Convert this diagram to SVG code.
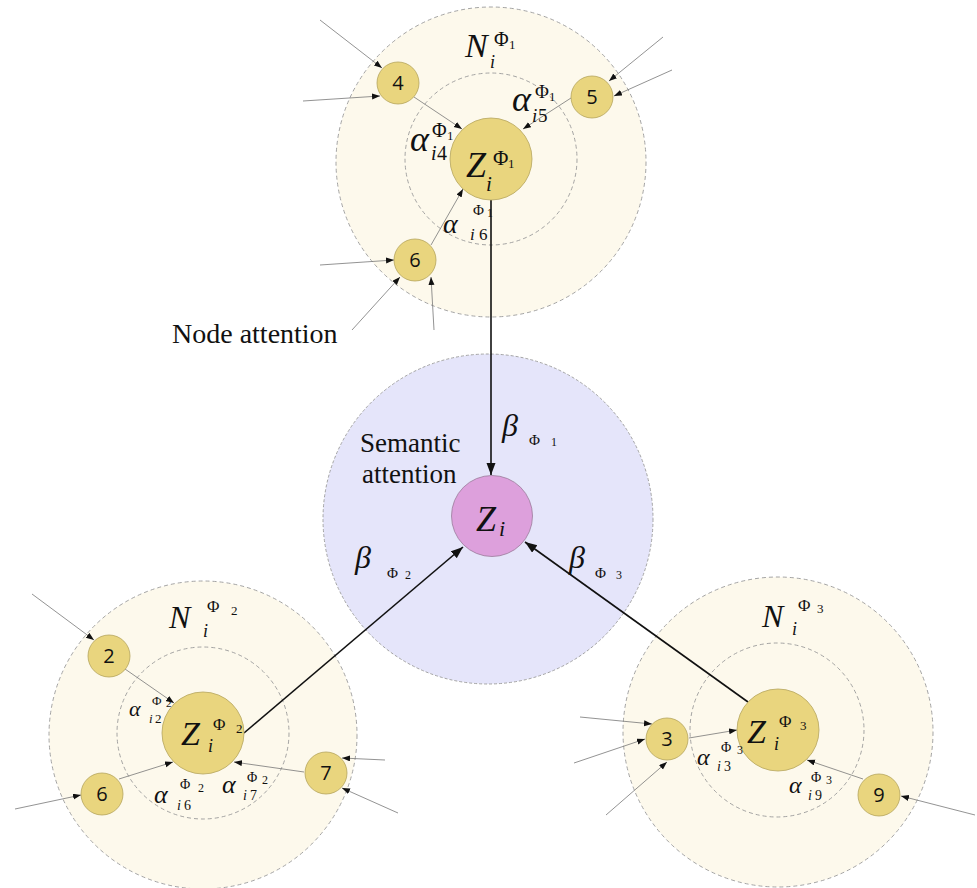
<svg xmlns="http://www.w3.org/2000/svg" width="977" height="888" viewBox="0 0 977 888">
<style>
.outer{fill:#FDF9EC;stroke:#9a9a9a;stroke-width:0.9;stroke-dasharray:4 3}
.inner{fill:none;stroke:#9a9a9a;stroke-width:0.9;stroke-dasharray:4 3}
.sem{fill:#E5E5FA;stroke:#9a9a9a;stroke-width:0.9;stroke-dasharray:3 2}
.nd{fill:#E9D57E;stroke:#B5A45C;stroke-width:0.8}
.zc{fill:#DDA0DC;stroke:#9A7C9A;stroke-width:0.8}
.thin{stroke:#777;stroke-width:0.8;fill:none;marker-end:url(#sa)}
.big{stroke:#111;stroke-width:1.6;fill:none;marker-end:url(#ba)}
.num{font-family:"Open Sans","Liberation Sans",sans-serif;font-size:20px;fill:#111;text-anchor:middle}
.m{font-family:"Liberation Serif","DejaVu Serif",serif;fill:#111;font-style:italic}
.u{font-family:"Liberation Serif","DejaVu Serif",serif;fill:#111;font-style:normal}
.t{font-family:"Liberation Serif","DejaVu Serif",serif;fill:#111}
</style>
<defs>
<marker id="sa" markerUnits="userSpaceOnUse" markerWidth="9" markerHeight="7" refX="8" refY="3" orient="auto"><path d="M0,0 L8,3 L0,6 z" fill="#111"/></marker>
<marker id="ba" markerUnits="userSpaceOnUse" markerWidth="13" markerHeight="10" refX="12" refY="4.5" orient="auto"><path d="M0,0 L12,4.5 L0,9 z" fill="#111"/></marker>
</defs>

<g id="regions">
<circle class="outer" cx="491" cy="162" r="155"/>
<circle class="inner" cx="491" cy="159" r="86"/>
<circle class="outer" cx="203" cy="735" r="154"/>
<circle class="inner" cx="203" cy="733" r="86"/>
<circle class="outer" cx="778" cy="732" r="155"/>
<circle class="inner" cx="777" cy="730" r="87"/>
<circle class="sem" cx="488" cy="519" r="165"/>
</g>

<g id="connectors">
<line class="thin" x1="320" y1="20" x2="382" y2="68"/>
<line class="thin" x1="303" y1="101" x2="380" y2="96"/>
<line class="thin" x1="414" y1="97" x2="462" y2="129"/>
<line class="thin" x1="663" y1="37" x2="609" y2="81"/>
<line class="thin" x1="672" y1="70" x2="614" y2="96"/>
<line class="thin" x1="571" y1="98" x2="523" y2="129"/>
<line class="thin" x1="431" y1="245" x2="463" y2="189"/>
<line class="thin" x1="320" y1="265" x2="394" y2="260"/>
<line class="thin" x1="352" y1="330" x2="400" y2="277"/>
<line class="thin" x1="434" y1="330" x2="431" y2="277"/>

<line class="thin" x1="32" y1="594" x2="94" y2="640"/>
<line class="thin" x1="125" y1="669" x2="174" y2="703"/>
<line class="thin" x1="15" y1="809" x2="81" y2="795"/>
<line class="thin" x1="119" y1="779" x2="173" y2="762"/>
<line class="thin" x1="304" y1="772" x2="234" y2="762"/>
<line class="thin" x1="385" y1="760" x2="342" y2="758"/>
<line class="thin" x1="398" y1="813" x2="342" y2="788"/>

<line class="thin" x1="580" y1="717" x2="652" y2="724"/>
<line class="thin" x1="574" y1="763" x2="645" y2="739"/>
<line class="thin" x1="606" y1="815" x2="667" y2="762"/>
<line class="thin" x1="689" y1="738" x2="737" y2="730"/>
<line class="thin" x1="863" y1="779" x2="807" y2="760"/>
<line class="thin" x1="975" y1="815" x2="901" y2="796"/>

<line class="big" x1="491" y1="200" x2="491" y2="475"/>
<line class="big" x1="244" y1="733" x2="463" y2="547"/>
<line class="big" x1="748" y1="702" x2="525" y2="542"/>
</g>

<g id="label-alpha-i6-top">
<text class="m" x="443" y="233" font-size="28">α</text>
<text class="u" x="473" y="215" font-size="15">Φ</text>
<text class="u" x="487" y="217" font-size="12">1</text>
<text class="m" x="470" y="240" font-size="17">i</text>
<text class="u" x="479" y="240" font-size="17">6</text>
</g>

<g id="node-Z1">
<circle class="nd" cx="491" cy="159" r="41"/>
<text class="m" x="466" y="177" font-size="36">Z</text>
<text class="m" x="486" y="191" font-size="21">i</text>
<text class="u" x="493" y="165" font-size="21">Φ</text>
<text class="u" x="508" y="168" font-size="13">1</text>
</g>
<g id="node-4"><circle class="nd" cx="398" cy="83" r="21"/><text class="num" x="398" y="90">4</text></g>
<g id="node-5"><circle class="nd" cx="592" cy="97" r="21"/><text class="num" x="592" y="104">5</text></g>
<g id="node-6a"><circle class="nd" cx="415" cy="260" r="21"/><text class="num" x="415" y="267">6</text></g>

<g id="node-Zi">
<circle class="zc" cx="492" cy="516" r="40.5"/>
<text class="m" x="476" y="531" font-size="36">Z</text>
<text class="m" x="499" y="536" font-size="22">i</text>
</g>

<g id="node-Z2">
<circle class="nd" cx="203" cy="733" r="41"/>
<text class="m" x="181" y="745" font-size="34">Z</text>
<text class="m" x="208" y="752" font-size="18">i</text>
<text class="u" x="213" y="730" font-size="17">Φ</text>
<text class="u" x="236" y="733" font-size="13">2</text>
</g>
<g id="node-2"><circle class="nd" cx="109" cy="656" r="21"/><text class="num" x="109" y="663">2</text></g>
<g id="node-6b"><circle class="nd" cx="102" cy="794" r="21"/><text class="num" x="102" y="801">6</text></g>
<g id="node-7"><circle class="nd" cx="326" cy="773" r="21"/><text class="num" x="326" y="780">7</text></g>

<g id="node-Z3">
<circle class="nd" cx="778" cy="730" r="41"/>
<text class="m" x="747" y="743" font-size="34">Z</text>
<text class="m" x="774" y="750" font-size="18">i</text>
<text class="u" x="779" y="727" font-size="17">Φ</text>
<text class="u" x="800" y="730" font-size="13">3</text>
</g>
<g id="node-3"><circle class="nd" cx="667" cy="739" r="21"/><text class="num" x="667" y="746">3</text></g>
<g id="node-9"><circle class="nd" cx="879" cy="795" r="21"/><text class="num" x="879" y="802">9</text></g>

<g id="labels">
<text class="m" x="465" y="57" font-size="34">N</text>
<text class="m" x="490" y="68" font-size="18">i</text>
<text class="u" x="494" y="46" font-size="20">Φ</text>
<text class="u" x="509" y="49" font-size="13">1</text>

<text class="m" x="512" y="111" font-size="36">α</text>
<text class="m" x="532" y="122" font-size="19">i</text>
<text class="u" x="538" y="122" font-size="19">5</text>
<text class="u" x="535" y="98" font-size="19">Φ</text>
<text class="u" x="549" y="101" font-size="13">1</text>

<text class="m" x="410" y="151" font-size="36">α</text>
<text class="m" x="431" y="160" font-size="20">i</text>
<text class="u" x="437" y="160" font-size="20">4</text>
<text class="u" x="432" y="137" font-size="20">Φ</text>
<text class="u" x="447" y="140" font-size="13">1</text>

<text class="t" x="172" y="343" font-size="28">Node attention</text>

<text class="t" x="360" y="452" font-size="27">Semantic</text>
<text class="t" x="362" y="483" font-size="27">attention</text>

<text class="m" x="502" y="436" font-size="32">β</text>
<text class="u" x="529" y="445" font-size="15">Φ</text>
<text class="u" x="551" y="446" font-size="12">1</text>

<text class="m" x="355" y="568" font-size="32">β</text>
<text class="u" x="387" y="578" font-size="15">Φ</text>
<text class="u" x="405" y="579" font-size="12">2</text>

<text class="m" x="569" y="568" font-size="32">β</text>
<text class="u" x="595" y="578" font-size="15">Φ</text>
<text class="u" x="616" y="579" font-size="12">3</text>

<text class="m" x="169" y="628" font-size="32">N</text>
<text class="m" x="203" y="637" font-size="18">i</text>
<text class="u" x="207" y="612" font-size="17">Φ</text>
<text class="u" x="231" y="615" font-size="13">2</text>

<text class="m" x="129" y="716" font-size="22">α</text>
<text class="m" x="149" y="723" font-size="13">i</text>
<text class="u" x="155" y="723" font-size="13">2</text>
<text class="u" x="152" y="705" font-size="13">Φ</text>
<text class="u" x="166" y="707" font-size="11">2</text>

<text class="m" x="154" y="803" font-size="26">α</text>
<text class="m" x="177" y="810" font-size="14">i</text>
<text class="u" x="184" y="810" font-size="14">6</text>
<text class="u" x="180" y="789" font-size="14">Φ</text>
<text class="u" x="198" y="792" font-size="12">2</text>

<text class="m" x="222" y="793" font-size="26">α</text>
<text class="m" x="243" y="800" font-size="14">i</text>
<text class="u" x="250" y="800" font-size="14">7</text>
<text class="u" x="247" y="782" font-size="14">Φ</text>
<text class="u" x="262" y="784" font-size="12">2</text>

<text class="m" x="762" y="627" font-size="32">N</text>
<text class="m" x="792" y="635" font-size="18">i</text>
<text class="u" x="798" y="611" font-size="17">Φ</text>
<text class="u" x="817" y="613" font-size="13">3</text>

<text class="m" x="697" y="765" font-size="24">α</text>
<text class="m" x="717" y="771" font-size="14">i</text>
<text class="u" x="724" y="771" font-size="14">3</text>
<text class="u" x="721" y="752" font-size="14">Φ</text>
<text class="u" x="737" y="754" font-size="12">3</text>

<text class="m" x="789" y="793" font-size="24">α</text>
<text class="m" x="808" y="800" font-size="14">i</text>
<text class="u" x="815" y="800" font-size="14">9</text>
<text class="u" x="811" y="782" font-size="14">Φ</text>
<text class="u" x="826" y="784" font-size="12">3</text>
</g>
</svg>
